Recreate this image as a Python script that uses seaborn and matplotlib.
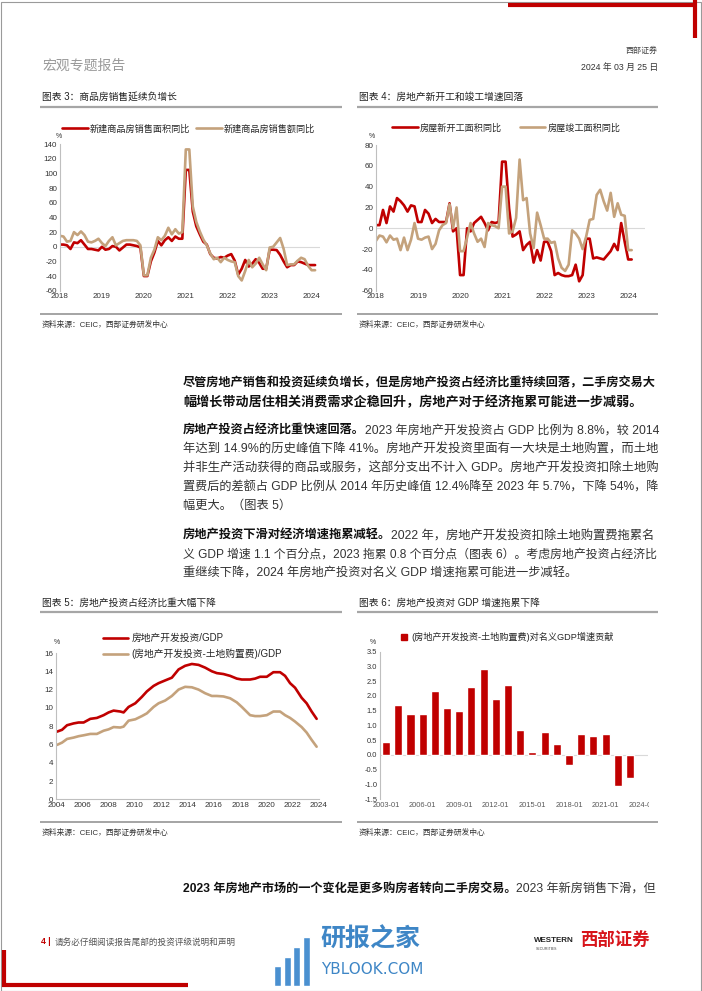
import numpy as np
import pandas as pd
import matplotlib
matplotlib.use("Agg")
import matplotlib.pyplot as plt
import seaborn as sns
from matplotlib.lines import Line2D
from matplotlib.patches import Rectangle, Patch
from matplotlib.transforms import Bbox, TransformedBbox

# 图表 3：月度同比 (2018-01 ~ 2024-02)
sales_area = [3, 3, 2, -3, 6, 5, 9, 3, -3, -3, -4, -5,
              0, -4, -3, 1, 0, -5, -1, 3, 3, 2, 1, -1,
              -40, -40, -20, -8, 8, 2, 9, 13, 8, 14, 11, 11,
              105, 105, 48, 28, 17, 7, 3, -10, -15, -16, -14, -15,
              -12, -10, -19, -38, -30, -18, -27, -23, -17, -22, -30, -30,
              -4, -4, -4.5, -11, -20, -28, -25, -25, -20, -21, -23, -25,
              -25, -25]
sales_value = [15, 14, 7, 8, 20, 16, 21, 16, 7, 6, 8, 11,
               5, 1, 8, 13, 2, 5, 8, 9, 9, 9, 8, 2,
               -39, -39, -15, -4, 13, 9, 15, 26, 17, 24, 18, 20,
               133, 133, 55, 34, 21, 10, 2, -9, -17, -15, -21, -15,
               -18, -20, -21, -40, -46, -33, -18, -28, -23, -15, -24, -32,
               -1, 0, 6, 12, -3, -25, -24, -24, -19, -15, -17, -26,
               -32, -32]

# 图表 4：新开工 / 竣工面积同比
new_starts = [3, 3, 17.6, 5, 21, 16, 29, 26, 22, 16, 22, 21,
              6, 6, 17.6, 14, 5, 9, 6, 6, 6, 24, -3, 0,
              -45, -45, 0, -3, 5, 8, 11, 5, -2, 6, 5, 6,
              64, 64, 19, -8, -6, -3, -21, -16, -13, -33, -21, -31,
              -13, -13, -22, -45, -43, -45, -46, -46, -45, -35, -51, -45,
              -10, -10, -29, -28, -29, -30, -26, -22, -15, -21, 5, -13,
              -30, -30]
completions = [-12, -7, -8, -13.5, -7, -11, -10, -21, -9, -21, -11, 5,
               -10, -11, -9, -8, -20, -15, -2, 3, 5, 23, 0, 20,
               -22, -22, -9, 5, -5, -13, -10, -18, 5, 3, 2, 0,
               40, 40, -5, -3, 10, 66, 27, 29, -5, -19, 15, 3,
               -10, -10, -14, -13, -29, -38, -41, -35, -2, -5, -10, -20,
               -8, 8, 9, 32, 37, 26, 17, 34, 11, 24, 13, 12,
               -21, -21]
line_years = [2018, 2019, 2020, 2021, 2022, 2023, 2024]

# 图表 5：房地产投资占 GDP 比重
gdp_years = [2004.08, 2004.46, 2004.84, 2005.34, 2005.72, 2006.10, 2006.61, 2007.11,
             2007.62, 2008.00, 2008.38, 2008.89, 2009.14, 2009.52, 2010.03, 2010.53,
             2010.91, 2011.42, 2011.80, 2012.30, 2012.81, 2013.32, 2013.82, 2014.33,
             2014.84, 2015.34, 2015.85, 2016.23, 2016.73, 2017.24, 2017.75, 2018.13,
             2018.76, 2019.14, 2019.52, 2020.03, 2020.53, 2021.04, 2021.42, 2021.80,
             2022.18, 2022.68, 2023.06, 2023.44, 2023.82]
invest_gdp = [7.4, 7.6, 8.1, 8.3, 8.4, 8.4, 8.8, 8.9, 9.2, 9.5, 9.7, 9.6, 9.5, 10.1, 10.5,
              11.2, 11.8, 12.4, 12.7, 13.0, 13.3, 14.2, 14.6, 14.8, 14.7, 14.4, 14.0, 13.8,
              13.7, 13.5, 13.2, 13.1, 13.1, 13.2, 13.4, 13.4, 13.9, 13.9, 13.5, 12.7, 12.2,
              11.1, 10.5, 9.6, 8.8]
invest_ex_land = [5.95, 6.2, 6.6, 6.75, 6.9, 7.0, 7.15, 7.15, 7.5, 7.65, 7.9, 7.85, 7.95,
                  8.6, 8.75, 9.1, 9.4, 10.1, 10.5, 10.8, 11.3, 12.0, 12.3, 12.25, 12.0, 11.6,
                  11.3, 11.3, 11.25, 11.05, 10.6, 10.1, 9.2, 9.1, 9.1, 9.2, 9.6, 9.6, 9.2,
                  8.9, 8.5, 7.9, 7.3, 6.5, 5.75]
gdp_ticks = [2004, 2006, 2008, 2010, 2012, 2014, 2016, 2018, 2020, 2022, 2024]

# 图表 6：对名义 GDP 增速贡献
bar_periods = ["2003-01", "2004-01", "2005-01", "2006-01", "2007-01", "2008-01", "2009-01",
               "2010-01", "2011-01", "2012-01", "2013-01", "2014-01", "2015-01", "2016-01",
               "2017-01", "2018-01", "2019-01", "2020-01", "2021-01", "2022-01", "2023-01"]
bar_values = [0.42, 1.70, 1.39, 1.38, 2.17, 1.60, 1.49, 2.30, 2.91, 1.91, 2.36, 0.85, 0.10,
              0.78, 0.36, -0.35, 0.70, 0.64, 0.69, -1.07, -0.79]
bar_tick_labels = ["2003-01", "2006-01", "2009-01", "2012-01", "2015-01", "2018-01",
                   "2021-01", "2024-01"]

RED = "#C00000"
TAN = "#C4A27C"
GREY = "#A6A6A6"
TICK_SIZE = 5.8

sns.set_style("white")
plt.rcParams["font.family"] = ["Liberation Sans", "Noto Sans CJK SC", "DejaVu Sans"]
plt.rcParams["axes.unicode_minus"] = False

W, H = 702, 991
fig = plt.figure(figsize=(W / 100, H / 100), dpi=100)
renderer = fig.canvas.get_renderer()


def fx(px):
    return px / W


def fy(py):
    return 1 - py / H


def box(x0, y0, x1, y1):
    return [x0 / W, 1 - y1 / H, (x1 - x0) / W, (y1 - y0) / H]


def hline(x0, x1, y, lw=1.2, color=GREY):
    fig.add_artist(Line2D([fx(x0), fx(x1)], [fy(y), fy(y)], transform=fig.transFigure,
                          lw=lw, color=color, solid_capstyle="butt"))


def vline(x, y0, y1, lw=1.2, color=GREY):
    fig.add_artist(Line2D([fx(x), fx(x)], [fy(y0), fy(y1)], transform=fig.transFigure,
                          lw=lw, color=color, solid_capstyle="butt"))


def chart_frame(x0, x1, y_title, y_top, y_bottom, title, source=True):
    fig.text(fx(x0 + 2), fy(y_title), title, fontsize=7, va="center", color="#222")
    hline(x0, x1, y_top, lw=1.6)
    hline(x0, x1, y_bottom, lw=1.1, color="#8C8C8C")
    if source:
        fig.text(fx(x0 + 2), fy(y_bottom + 11), "资料来源：CEIC，西部证券研发中心",
                 fontsize=5.6, va="center", color="#333")


def style_axis(ax, bottom=False, size=TICK_SIZE):
    sns.despine(ax=ax, top=True, right=True, bottom=not bottom)
    for side in ["left", "bottom"]:
        ax.spines[side].set_color("#BFBFBF")
        ax.spines[side].set_linewidth(0.8)
    ax.tick_params(axis="both", length=0, pad=2, labelsize=size, colors="#333")
    ax.set_xlabel("")
    ax.set_ylabel("")
    ax.set_facecolor("none")


# ---- 页面装饰 ----
fig.add_artist(Rectangle((0.5 / W, 0.5 / H), (W - 2) / W, (H - 2) / H, transform=fig.transFigure,
                         fill=False, edgecolor="#9A9A9A", lw=0.8))
hline(508, 697, 5, lw=3, color=RED)
vline(695, 0, 38, lw=3, color=RED)
vline(4, 950, 987, lw=3, color=RED)
hline(2, 188, 985, lw=3, color=RED)

fig.text(fx(42), fy(66), "宏观专题报告", fontsize=10, va="center", color="#9A9A9A")
fig.text(fx(658), fy(51), "西部证券", fontsize=5.8, ha="right", va="center", color="#444")
fig.text(fx(658), fy(67), "2024 年 03 月 25 日", fontsize=6.3, ha="right", va="center", color="#333")

# ---- 图表 3 ----
chart_frame(40, 342, 97, 107, 314, "图表 3：商品房销售延续负增长")
ax3 = fig.add_axes(box(60, 144.3, 320, 290.7))
months = 2018 + np.arange(len(sales_area)) / 12
df3 = pd.DataFrame({"t": months, "area": sales_area, "value": sales_value})
sns.lineplot(data=df3, x="t", y="area", color=RED, lw=1.9, ax=ax3, label="新建商品房销售面积同比")
sns.lineplot(data=df3, x="t", y="value", color=TAN, lw=1.9, ax=ax3, label="新建商品房销售额同比")
ax3.axhline(0, color="#D9D9D9", lw=0.8, zorder=0)
ax3.set_xlim(2018, 2024.2)
ax3.set_ylim(-60, 140)
ax3.set_yticks(range(-60, 141, 20))
ax3.set_xticks(line_years)
ax3.set_xticklabels([str(y) for y in line_years])
style_axis(ax3)
ax3.legend(loc="center left", bbox_to_anchor=(fx(62), fy(129)), bbox_transform=fig.transFigure,
           ncol=2, frameon=False, fontsize=6.6, handlelength=2.8, handletextpad=0.25,
           columnspacing=0.6, borderpad=0, borderaxespad=0)
fig.text(fx(59), fy(137), "%", fontsize=5, ha="center", va="center", color="#333")

# ---- 图表 4 ----
chart_frame(357, 658, 97, 107, 314, "图表 4：房地产新开工和竣工增速回落")
ax4 = fig.add_axes(box(376, 145, 645, 290.7))
df4 = pd.DataFrame({"t": 2018 + np.arange(len(new_starts)) / 12,
                    "starts": new_starts, "done": completions})
sns.lineplot(data=df4, x="t", y="starts", color=RED, lw=1.9, ax=ax4, label="房屋新开工面积同比")
sns.lineplot(data=df4, x="t", y="done", color=TAN, lw=1.9, ax=ax4, label="房屋竣工面积同比")
ax4.axhline(0, color="#D9D9D9", lw=0.8, zorder=0)
ax4.set_xlim(2018, 2024.4)
ax4.set_ylim(-60, 80)
ax4.set_yticks(range(-60, 81, 20))
ax4.set_xticks(line_years)
ax4.set_xticklabels([str(y) for y in line_years])
style_axis(ax4)
ax4.legend(loc="center left", bbox_to_anchor=(fx(392), fy(128)), bbox_transform=fig.transFigure,
           ncol=2, frameon=False, fontsize=6.6, handlelength=2.8, handletextpad=0.25,
           columnspacing=1.9, borderpad=0, borderaxespad=0)
fig.text(fx(372), fy(137), "%", fontsize=5, ha="center", va="center", color="#333")

# ---- 正文 ----
paragraphs = [
    (383.3, [[("尽管房地产销售和投资延续负增长，但是房地产投资占经济比重持续回落，二手房交易大", True)],
             [("幅增长带动居住相关消费需求企稳回升，房地产对于经济拖累可能进一步减弱。", True)]]),
    (430.7, [[("房地产投资占经济比重快速回落。", True), ("2023 年房地产开发投资占 GDP 比例为 8.8%，较 2014", False)],
             [("年达到 14.9%的历史峰值下降 41%。房地产开发投资里面有一大块是土地购置，而土地", False)],
             [("并非生产活动获得的商品或服务，这部分支出不计入 GDP。房地产开发投资扣除土地购", False)],
             [("置费后的差额占 GDP 比例从 2014 年历史峰值 12.4%降至 2023 年 5.7%，下降 54%，降", False)],
             [("幅更大。（图表 5）", False)]]),
    (536.0, [[("房地产投资下滑对经济增速拖累减轻。", True), ("2022 年，房地产开发投资扣除土地购置费拖累名", False)],
             [("义 GDP 增速 1.1 个百分点，2023 拖累 0.8 个百分点（图表 6）。考虑房地产投资占经济比", False)],
             [("重继续下降，2024 年房地产投资对名义 GDP 增速拖累可能进一步减轻。", False)]]),
    (889.0, [[("2023 年房地产市场的一个变化是更多购房者转向二手房交易。", True), ("2023 年新房销售下滑，但", False)]]),
]


def draw_line(y, parts, justify, x_left=183, x_right=658, size=8.8):
    # 先量宽度，满行时微调字号对齐右边
    texts = []
    width = 0
    for s, bold in parts:
        t = fig.text(0, 0, s, fontsize=size, fontweight="bold" if bold else "normal",
                     va="center", color="#111" if bold else "#333")
        width += t.get_window_extent(renderer).width
        texts.append(t)
    fs = size
    if justify:
        fs = size * min(max((x_right - x_left) / width, 0.93), 1.07)
    x = x_left
    for t in texts:
        t.set_fontsize(fs)
        t.set_position((fx(x), fy(y)))
        x += t.get_window_extent(renderer).width


for y0, lines in paragraphs:
    for i, parts in enumerate(lines):
        full = i < len(lines) - 1 or y0 > 800 or y0 < 400
        draw_line(y0 + i * 18.8, parts, justify=full)

# ---- 图表 5 ----
chart_frame(40, 342, 603, 612, 822, "图表 5：房地产投资占经济比重大幅下降")
ax5 = fig.add_axes(box(56, 653, 319, 799.3))
df5 = pd.DataFrame({"t": gdp_years, "a": invest_gdp, "b": invest_ex_land})
sns.lineplot(data=df5, x="t", y="a", color=RED, lw=1.9, ax=ax5, label="房地产开发投资/GDP")
sns.lineplot(data=df5, x="t", y="b", color=TAN, lw=1.9, ax=ax5, label="(房地产开发投资-土地购置费)/GDP")
ax5.set_xlim(2004, 2024)
ax5.set_ylim(0, 16)
ax5.set_yticks(range(0, 17, 2))
ax5.set_xticks(gdp_ticks)
ax5.set_xticklabels([str(y) for y in gdp_ticks])
style_axis(ax5, bottom=True)
ax5.legend(loc="center left", bbox_to_anchor=(fx(103), fy(646)), bbox_transform=fig.transFigure,
           ncol=1, frameon=False, fontsize=7, handlelength=2.6, handletextpad=0.3,
           labelspacing=0.55, borderpad=0, borderaxespad=0)
fig.text(fx(57), fy(643), "%", fontsize=5, ha="center", va="center", color="#333")

# ---- 图表 6 ----
chart_frame(357, 658, 603, 612, 822, "图表 6：房地产投资对 GDP 增速拖累下降")
ax6 = fig.add_axes(box(380, 651.7, 648.3, 799))
sns.barplot(x=bar_periods, y=bar_values, color=RED, saturation=1, width=0.66, ax=ax6,
            label="(房地产开发投资-土地购置费)对名义GDP增速贡献")
ax6.axhline(0, color="#D9D9D9", lw=0.8, zorder=0)
ax6.set_xlim(-0.5, 21.5)
ax6.set_ylim(-1.5, 3.5)
ax6.set_yticks(np.arange(-1.5, 3.51, 0.5))
ax6.set_yticklabels([f"{v:.1f}" for v in np.arange(-1.5, 3.51, 0.5)])
ax6.set_xticks(range(0, 22, 3))
ax6.set_xticklabels(bar_tick_labels)
style_axis(ax6, size=5.4)
ax6.tick_params(axis="x", colors="#595959")
# 原图最后一个日期标签被图片右边截掉
clip = TransformedBbox(Bbox([[0, 0], [fx(649), 1]]), fig.transFigure)
for tick in ax6.xaxis.get_major_ticks():
    tick.label1.set_clip_box(clip)
    tick.label1.set_clip_on(True)
ax6.legend(handles=[Patch(color=RED)], labels=["(房地产开发投资-土地购置费)对名义GDP增速贡献"],
           loc="center left", bbox_to_anchor=(fx(401), fy(637)), bbox_transform=fig.transFigure,
           frameon=False, fontsize=6.6, handlelength=0.7, handleheight=0.7, handletextpad=0.4,
           borderpad=0, borderaxespad=0)
fig.text(fx(373), fy(643), "%", fontsize=5, ha="center", va="center", color="#333")

# ---- 页脚 ----
fig.text(fx(41), fy(942), "4 |", fontsize=6.3, fontweight="bold", va="center", color=RED)
fig.text(fx(55), fy(942), "请务必仔细阅读报告尾部的投资评级说明和声明", fontsize=6.2, va="center", color="#555")

logo_heights = [2.4, 3.4, 4.6, 5.8]
ax_logo = fig.add_axes(box(273, 925, 311, 986))
sns.barplot(x=list(range(len(logo_heights))), y=logo_heights, color="#4A90D0", saturation=1,
            width=0.72, ax=ax_logo)
ax_logo.set_ylim(0, 7.2)
ax_logo.axis("off")
fig.text(fx(320), fy(939), "研报之家", fontsize=18, fontweight="bold", va="center", color="#3E86C6")
fig.text(fx(321), fy(970), "YBLOOK.COM", fontsize=11, family="DejaVu Sans", va="center", color="#3E86C6")

fig.text(fx(534), fy(941), "WESTERN", fontsize=5.8, fontweight="bold", va="center", color="#222")
fig.text(fx(536), fy(949), "SECURITIES", fontsize=2.6, va="center", color="#444")
fig.text(fx(580), fy(940), "西部证券", fontsize=12.5, fontweight="bold", va="center", color="#D7141A")

fig.savefig("out.png", dpi=100)
